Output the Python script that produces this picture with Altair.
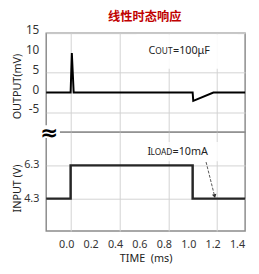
import altair as alt
import pandas as pd

# ---------------- data ----------------
chart_title = "线性时态响应"
x_ticks = [0.0, 0.2, 0.4, 0.6, 0.8, 1.0, 1.2, 1.4]
x_tick_labels = ["0.0", "0.2", "0.4", "0.6", "0.8", "1.0", "1.2", "1.4"]
out_ticks = [15, 10, 5, 0, -5]
out_tick_labels = ["15", "10", "5", "0", "-5"]
in_ticks = [6.3, 4.3]
in_tick_labels = ["6.3", "4.3"]

out_t = [-0.2, 0.0, 0.01, 0.025, 1.0, 1.005, 1.17, 1.43]
out_mv = [0, 0, 10, 0, 0, -2.1, 0, 0]

in_t = [-0.2, 0.0, 0.0, 1.0, 1.0, 1.43]
in_v = [4.3, 4.3, 6.3, 6.3, 4.3, 4.3]

arrow_t = [1.11, 1.18]
arrow_v = [6.5, 4.45]

cout_box_t = [0.54, 1.37]
cout_box_mv = [14.7, 6.0]
cout_label_t = [0.638]
cout_label_mv = [10.5]

iload_box_t = [0.52, 1.35]
iload_box_v = [7.7, 6.55]
iload_label_t = [0.63]
iload_label_v = [7.12]

FONT = "Noto Sans"
GRID = "#d2d2d2"
LBL = "#333333"
W = 203
H = 101

df_out = pd.DataFrame({"t": out_t, "mv": out_mv, "i": range(len(out_t))})
df_in = pd.DataFrame({"t": in_t, "v": in_v, "i": range(len(in_t))})
df_arrow = pd.DataFrame({"t": arrow_t, "v": arrow_v})
df_arrow_head = df_arrow.iloc[[1]]
df_cbox = pd.DataFrame({"t": [cout_box_t[0]], "t2": [cout_box_t[1]],
                        "y": [cout_box_mv[0]], "y2": [cout_box_mv[1]]})
df_clab = pd.DataFrame({"t": cout_label_t, "mv": cout_label_mv})
df_ibox = pd.DataFrame({"t": [iload_box_t[0]], "t2": [iload_box_t[1]],
                        "y": [iload_box_v[0]], "y2": [iload_box_v[1]]})
df_ilab = pd.DataFrame({"t": iload_label_t, "v": iload_label_v})
df_xt = pd.DataFrame({"t": x_ticks, "lab": x_tick_labels})
df_ot = pd.DataFrame({"mv": out_ticks, "lab": out_tick_labels})
df_it = pd.DataFrame({"v": in_ticks, "lab": in_tick_labels})
df_title = pd.DataFrame({"lab": [chart_title]})

xs = alt.Scale(domain=[-0.2, 1.43], nice=False, zero=False)
ys_top = alt.Scale(domain=[-10, 15], nice=False, zero=False)
ys_bot = alt.Scale(domain=[2.35, 8.3], nice=False, zero=False)

# ---------------- top panel ----------------
x_top = alt.X("t:Q", scale=xs, axis=alt.Axis(values=x_ticks, labels=False, ticks=False,
                                             domain=False, title=None, grid=True, gridColor=GRID))
y_top_axis = alt.Axis(values=out_ticks, title="OUTPUT(mV)", ticks=False, domain=False,
                      labels=False, grid=True, gridColor=GRID,
                      titleFont=FONT, titleFontSize=11, titleFontWeight="normal",
                      titleColor="#222", titleX=-29, titleY=54, titleAngle=270,
                      titleAlign="center", titleBaseline="middle")

top_line = alt.Chart(df_out).mark_line(color="black", strokeWidth=2).encode(
    x=x_top, y=alt.Y("mv:Q", scale=ys_top, axis=y_top_axis), order="i:O")

cbox = alt.Chart(df_cbox).mark_rect(color="white", opacity=0.88).encode(
    x=alt.X("t:Q", scale=xs), x2="t2:Q",
    y=alt.Y("y:Q", scale=ys_top), y2="y2:Q")

c1 = alt.Chart(df_clab).mark_text(text="C", align="left", baseline="middle",
                                  font=FONT, fontSize=11, color="#222").encode(
    x=alt.X("t:Q", scale=xs), y=alt.Y("mv:Q", scale=ys_top))
c2 = alt.Chart(df_clab).mark_text(text="OUT", align="left", baseline="middle", dx=7, dy=0.5,
                                  font=FONT, fontSize=8.5, color="#222").encode(
    x=alt.X("t:Q", scale=xs), y=alt.Y("mv:Q", scale=ys_top))
c3 = alt.Chart(df_clab).mark_text(text="=100μF", align="left", baseline="middle", dx=25,
                                  font=FONT, fontSize=11, color="#222").encode(
    x=alt.X("t:Q", scale=xs), y=alt.Y("mv:Q", scale=ys_top))

ot_labels = alt.Chart(df_ot).mark_text(align="right", baseline="middle", dy=-3,
                                       font=FONT, fontSize=12, color=LBL).encode(
    x=alt.value(-7), y=alt.Y("mv:Q", scale=ys_top), text="lab:N")

title_mark = alt.Chart(df_title).mark_text(align="center", baseline="middle",
                                           font="Noto Sans CJK SC", fontSize=12.5,
                                           fontWeight="bold", color="#c00000").encode(
    x=alt.value(W / 2 - 1), y=alt.value(-16), text="lab:N")

top = alt.layer(cbox, top_line, c1, c2, c3, ot_labels, title_mark).properties(width=W, height=H)

# ---------------- bottom panel ----------------
x_bot = alt.X("t:Q", scale=xs, axis=alt.Axis(values=x_ticks, labels=False, ticks=False,
                                             domain=False, grid=True, gridColor=GRID,
                                             title="TIME\u00a0 (ms)", titleFont=FONT,
                                             titleFontSize=11, titleFontWeight="normal",
                                             titleColor="#222", titleY=28,
                                             titleBaseline="middle"))
y_bot_axis = alt.Axis(values=in_ticks, title="INPUT (V)", ticks=False, domain=False,
                      labels=False, grid=True, gridColor=GRID,
                      titleFont=FONT, titleFontSize=11, titleFontWeight="normal",
                      titleColor="#222", titleX=-29, titleY=57, titleAngle=270,
                      titleAlign="center", titleBaseline="middle")

ibox = alt.Chart(df_ibox).mark_rect(color="white", opacity=0.8).encode(
    x=alt.X("t:Q", scale=xs), x2="t2:Q",
    y=alt.Y("y:Q", scale=ys_bot), y2="y2:Q")

bot_line = alt.Chart(df_in).mark_line(color="#262626", strokeWidth=2.5).encode(
    x=x_bot, y=alt.Y("v:Q", scale=ys_bot, axis=y_bot_axis), order="i:O")

arrow = alt.Chart(df_arrow).mark_line(color="#555", strokeWidth=1, strokeDash=[3, 1.5]).encode(
    x=alt.X("t:Q", scale=xs), y=alt.Y("v:Q", scale=ys_bot))
arrow_head = alt.Chart(df_arrow_head).mark_point(shape="triangle-down", filled=True, size=22,
                                                 color="#333", angle=347, opacity=1).encode(
    x=alt.X("t:Q", scale=xs), y=alt.Y("v:Q", scale=ys_bot))

i1 = alt.Chart(df_ilab).mark_text(text="I", align="left", baseline="middle",
                                  font=FONT, fontSize=11, color="#222").encode(
    x=alt.X("t:Q", scale=xs), y=alt.Y("v:Q", scale=ys_bot))
i2 = alt.Chart(df_ilab).mark_text(text="LOAD", align="left", baseline="middle", dx=3, dy=0.5,
                                  font=FONT, fontSize=8.5, color="#222").encode(
    x=alt.X("t:Q", scale=xs), y=alt.Y("v:Q", scale=ys_bot))
i3 = alt.Chart(df_ilab).mark_text(text="=10mA", align="left", baseline="middle", dx=25.5,
                                  font=FONT, fontSize=11, color="#222").encode(
    x=alt.X("t:Q", scale=xs), y=alt.Y("v:Q", scale=ys_bot))

it_labels = alt.Chart(df_it).mark_text(align="right", baseline="middle",
                                       font=FONT, fontSize=11, color=LBL).encode(
    x=alt.value(-7), y=alt.Y("v:Q", scale=ys_bot), text="lab:N")
xt_labels = alt.Chart(df_xt).mark_text(align="center", baseline="middle", dx=-4,
                                       font=FONT, fontSize=11, color=LBL).encode(
    x=alt.X("t:Q", scale=xs), y=alt.value(H + 14), text="lab:N")

# axis-break marker
brk_bg = alt.Chart(df_ilab).mark_rect(color="white").encode(
    x=alt.value(-7), x2=alt.value(14), y=alt.value(-7), y2=alt.value(6))
brk = alt.Chart(df_ilab).mark_text(text="≈", font="DejaVu Sans", fontSize=22, fontWeight="bold",
                                   color="black", baseline="middle", align="center").encode(
    x=alt.value(3), y=alt.value(1))

bottom = alt.layer(ibox, bot_line, arrow, arrow_head, i1, i2, i3, it_labels, xt_labels,
                   brk_bg, brk).properties(width=W, height=H)

chart = alt.vconcat(top, bottom, spacing=0, bounds="flush").properties(
    padding={"left": 3, "top": 0, "right": 0, "bottom": 0},
).configure_view(stroke="#8c8c8c", strokeWidth=1.5)

chart.save("out.html", embed_options={"renderer": "svg", "actions": False})
